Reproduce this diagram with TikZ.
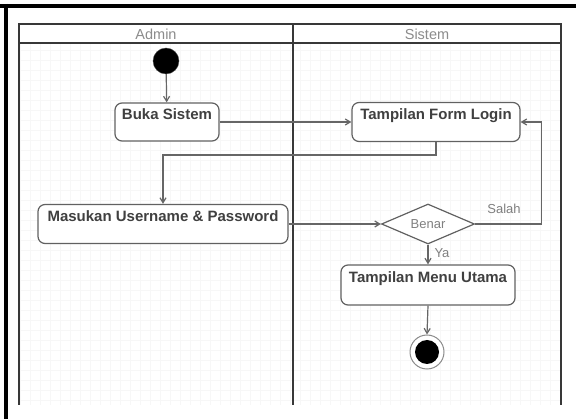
\documentclass[tikz,border=0pt]{standalone}
\usepackage{fontspec}
\setmainfont{Liberation Sans}
\usetikzlibrary{shapes.geometric,arrows.meta,calc}

\tikzset{
  lane/.style={line width=2.4pt, draw=black!78},
  frameline/.style={line width=4pt, draw=black},
  actbox/.style={draw=black!62, line width=1.2pt, rounded corners=7pt, fill=white,
    inner sep=0pt},
  acttext/.style={font=\fontsize{15}{17}\selectfont\bfseries, text=black!75},
  lanetitle/.style={font=\fontsize{14.5}{16}\selectfont, text=black!45},
  guard/.style={font=\fontsize{13}{15}\selectfont, text=black!50},
  flow/.style={draw=black!60, line width=1.2pt, -{Straight Barb[length=5pt,width=6pt]}},
  startdot/.style={circle, fill=black, draw=black!70, minimum size=26pt, inner sep=0pt},
}

\begin{document}
\begin{tikzpicture}[x=1pt, y=-1pt]
  \useasboundingbox (0,0) rectangle (576,419);
  \fill[white] (0,0) rectangle (576,419);

  % faint drawing grid behind the lanes
  \draw[black!3, line width=0.5pt, step=10pt] (19,43) grid (561,405);

  % outer frame (top and left edges)
  \draw[frameline] (0,6) -- (576,6);
  \draw[frameline] (6,4) -- (6,419);

  % swimlanes
  \draw[lane] (19,405) -- (19,24) -- (561,24) -- (561,405);
  \draw[lane] (19,43) -- (561,43);
  \draw[lane] (293,24) -- (293,405);
  \node[lanetitle] (tadmin) at (156,34) {Admin};
  \node[lanetitle] (tsistem) at (427,34) {Sistem};

  % activities
  \node[startdot] (start) at (166,61) {};
  \node[actbox, minimum width=104pt, minimum height=38pt] (buka) at (167,122) {};
  \node[acttext, below] (bukat) at (buka.north) [yshift=-3pt] {Buka Sistem};

  \node[actbox, minimum width=168pt, minimum height=39pt] (form) at (436,122) {};
  \node[acttext, below] (formt) at (form.north) [yshift=-3pt] {Tampilan Form Login};

  \node[actbox, minimum width=250pt, minimum height=39pt] (masukan) at (163,224) {};
  \node[acttext, below] (masukant) at (masukan.north) [yshift=-3pt] {Masukan Username \& Password};

  \node[diamond, draw=black!62, line width=1.2pt, fill=white, inner sep=0pt,
        minimum width=93pt, minimum height=40pt] (benar) at (428,224) {};
  \node[guard] (benart) at (benar.center) {Benar};

  \node[actbox, minimum width=174pt, minimum height=40pt] (menu) at (428,285) {};
  \node[acttext, below] (menut) at (menu.north) [yshift=-4pt] {Tampilan Menu Utama};

  \node[circle, draw=black!45, line width=1pt, fill=white, minimum size=34pt, inner sep=0pt]
    (end) at (427,352) {};
  \node[circle, fill=black, minimum size=24pt, inner sep=0pt] (endin) at (end.center) {};

  % control flow
  \draw[flow] (start) -- (buka);
  \draw[flow] (buka.east) -- (form.west);
  \draw[flow] (form.south) -- ++(0,13) -| (masukan.north);
  \draw[flow] (masukan.east) -- (benar.west);
  \draw[flow] (benar.east) -- ++(66,0) coordinate (turn) |- (form.east);
  \node[guard] (salah) at (504,209) {Salah};
  \draw[flow] (benar.south) -- (menu.north);
  \node[guard, right] (ya) at (431,253) {Ya};
  \draw[flow] (menu.south) -- (end.north);
\end{tikzpicture}
\end{document}
